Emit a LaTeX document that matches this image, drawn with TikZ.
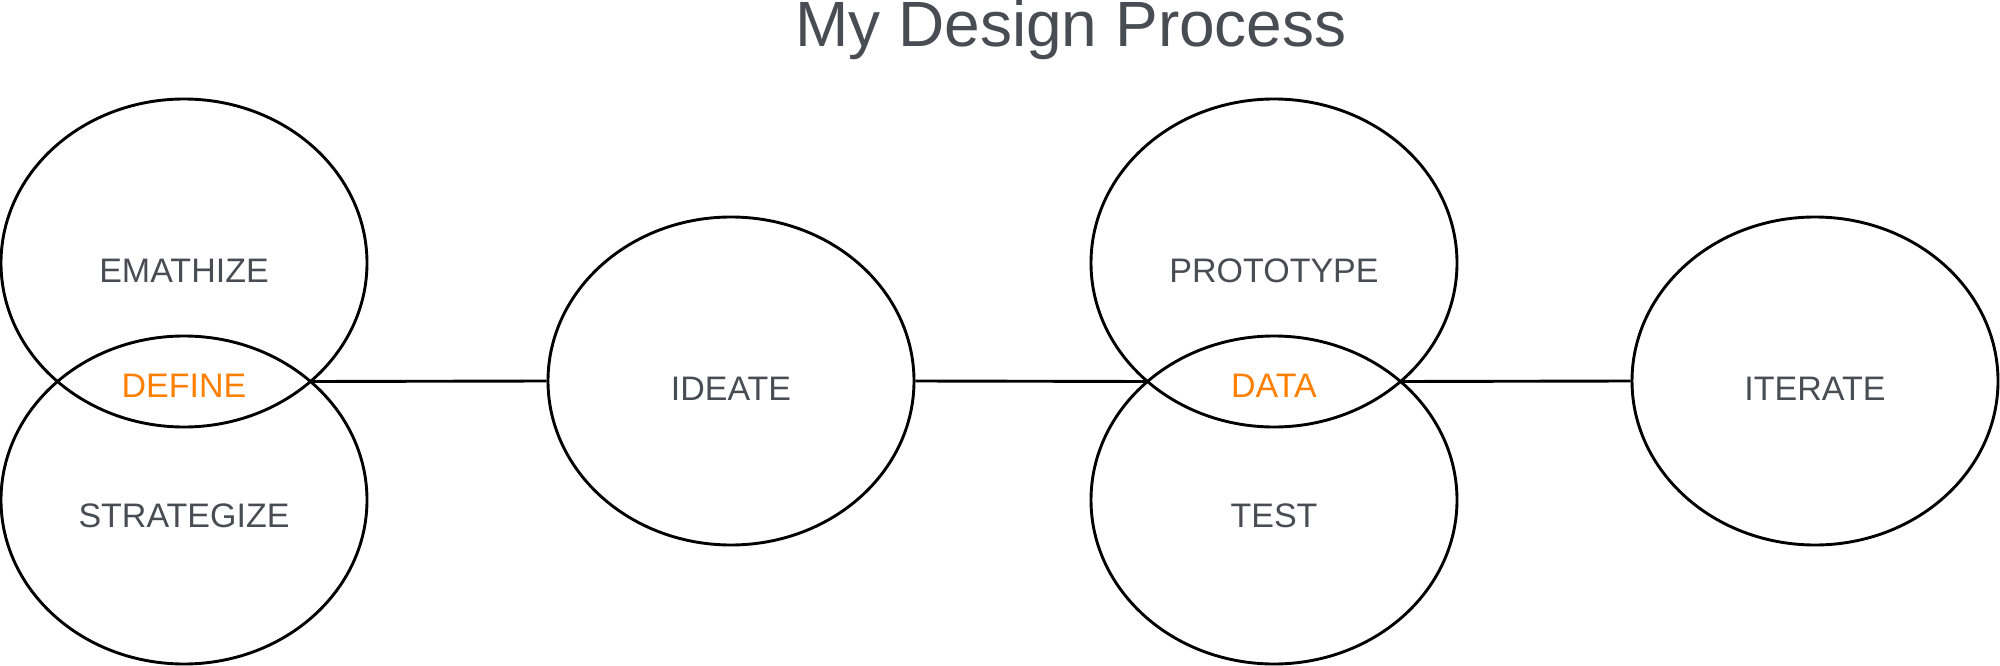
\documentclass[tikz,border=0pt]{standalone}
\usepackage{fontspec}
\setmainfont{Liberation Sans}
\usepackage{xcolor}
\usetikzlibrary{shapes.geometric,positioning}
\definecolor{cinza}{HTML}{484D54}
\definecolor{laranja}{HTML}{FF8000}

\begin{document}
\begin{tikzpicture}[x=1pt,y=-1pt,
    fase/.style={draw,ellipse,line width=2.9pt,minimum width=366pt,minimum height=328pt,inner sep=0pt},
    rotulo/.style={text=cinza,font=\fontsize{34}{40}\selectfont,anchor=base,inner sep=0pt},
    destaque/.style={rotulo,text=laranja}]
    \useasboundingbox (0,0) rectangle (2000,666);
    \node[text=cinza,font=\fontsize{64}{76}\selectfont,anchor=base,inner sep=0pt] (tit) at (1071,47) {My Design Process};
    % Elipses das fases
    \node[fase] (emp) at (184,263) {};
    \node[fase] (est) at (184,500) {};
    \node[fase] (ide) at (731,381) {};
    \node[fase] (pro) at (1274,263) {};
    \node[fase] (tes) at (1274,500) {};
    \node[fase] (ite) at (1815,381) {};
    % Textos das fases
    \node[rotulo] (tEmp) at (184,282) {EMATHIZE};
    \node[destaque] (tDef) at (184,397.5) {DEFINE};
    \node[rotulo] (tEst) at (184,527) {STRATEGIZE};
    \node[rotulo] (tIde) at (731,400.5) {IDEATE};
    \node[rotulo] (tPro) at (1274,282) {PROTOTYPE};
    \node[destaque] (tDat) at (1274,397.5) {DATA};
    \node[rotulo] (tTes) at (1274,527) {TEST};
    \node[rotulo] (tIte) at (1815,400.5) {ITERATE};
    % Pontos onde as elipses se cruzam
    \coordinate (defR) at (310.5,381.5);
    \coordinate (datL) at (1147.5,381.5);
    \coordinate (datR) at (1400.5,381.5);
    % Linhas entre as fases
    \foreach \x/\y in {defR/ide.west,ide.east/datL,datR/ite.west} {\draw[line width=2.9pt] (\x) -- (\y);}
\end{tikzpicture}
\end{document}
